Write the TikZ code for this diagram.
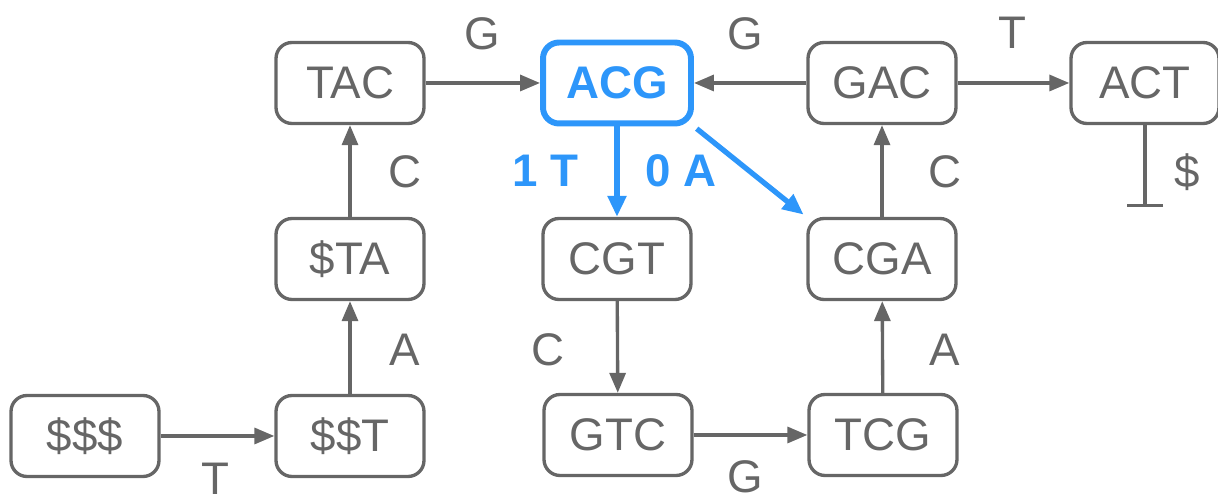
\documentclass[tikz,border=0pt]{standalone}
\usepackage{fontspec}
\setmainfont{Liberation Sans}
\usetikzlibrary{arrows.meta}
\definecolor{ink}{RGB}{102,102,102}
\definecolor{hl}{RGB}{45,150,250}
\begin{document}
\begin{tikzpicture}[x=0.02cm,y=-0.02cm,
  kmer/.style={draw=ink, line width=1.9pt, rounded corners=0.32cm,
    minimum width=2.96cm, minimum height=1.62cm, inner sep=0pt,
    text=ink, font=\fontsize{26}{30}\selectfont},
  hot/.style={kmer, draw=hl, line width=3.4pt, text=hl, font=\fontsize{26}{30}\selectfont\bfseries},
  edge/.style={draw=ink, line width=1.9pt, -{Triangle[length=0.4cm,width=0.32cm]}},
  hotedge/.style={draw=hl, line width=3pt, -{Triangle[length=0.42cm,width=0.36cm]}},
  lbl/.style={text=ink, font=\fontsize{26}{30}\selectfont, inner sep=0pt},
  hotlbl/.style={text=hl, font=\fontsize{26}{30}\selectfont\bfseries, inner sep=0pt}]
\useasboundingbox (0,0) rectangle (1218,502);

% de Bruijn nodes
\node[kmer] (TAC) at (350,83) {TAC};
\node[hot]  (ACG) at (617,83) {ACG};
\node[kmer] (GAC) at (882,83) {GAC};
\node[kmer] (ACT) at (1145,83) {ACT};
\node[kmer] (STA) at (350,259) {\$TA};
\node[kmer] (CGT) at (617,259) {CGT};
\node[kmer] (CGA) at (882,259) {CGA};
\node[kmer] (SSS) at (85,436) {\$\$\$};
\node[kmer] (SST) at (350,436) {\$\$T};
\node[kmer] (GTC) at (618,435) {GTC};
\node[kmer] (TCG) at (883,435) {TCG};
\coordinate (stop) at (1145,207);

% edges
\draw[edge] (SSS) -- (SST);
\draw[edge] (SST) -- (STA);
\draw[edge] (STA) -- (TAC);
\draw[edge] (TAC) -- (ACG);
\draw[edge] (GAC) -- (ACG);
\draw[edge] (GAC) -- (ACT);
\draw[edge] (CGT) -- (GTC);
\draw[edge] (GTC) -- (TCG);
\draw[edge] (TCG) -- (CGA);
\draw[edge] (CGA) -- (GAC);
\draw[draw=ink, line width=1.9pt, -{Bar[width=0.72cm,line width=1.9pt]}] (ACT) -- (stop);
\draw[hotedge] (ACG) -- (CGT);
\draw[hotedge, shorten <=2pt, shorten >=2pt] (ACG.south east) -- (CGA.north west);

% edge labels
\node[lbl] (lG1) at (482,34) {G};
\node[lbl] (lG2) at (745,34) {G};
\node[lbl] (lT1) at (1012,33) {T};
\node[lbl] (lC1) at (405,172) {C};
\node[lbl] (lA1) at (405,350) {A};
\node[lbl] (lT2) at (215,479) {T};
\node[lbl] (lC2) at (945,172) {C};
\node[lbl] (lS)  at (1187,172) {\$};
\node[lbl] (lC3) at (548,350) {C};
\node[lbl] (lA2) at (945,350) {A};
\node[lbl] (lG3) at (745,477) {G};
\node[hotlbl] (l1T) at (545,171) {1 T};
\node[hotlbl] (l0A) at (681,171) {0 A};
\end{tikzpicture}
\end{document}
